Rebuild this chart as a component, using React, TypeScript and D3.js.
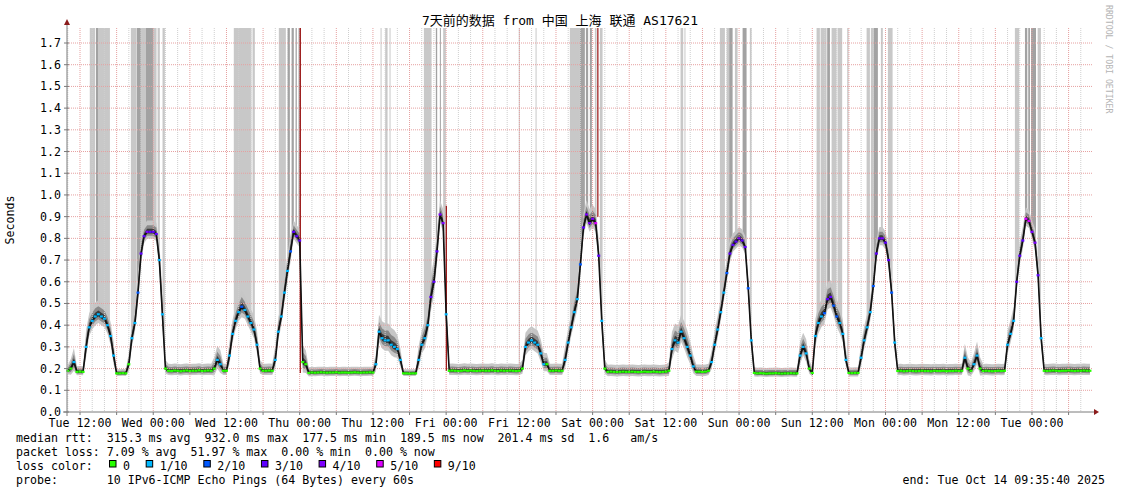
import * as d3 from "d3";

// hours are counted from Tue 2025-10-07 00:00 (local time)
const day0 = new Date(2025, 9, 7).getTime();
const at = (h: number) => new Date(day0 + h * 3600e3);

// half-hourly samples: [median ms, loss /10, smoke spread ms]
const tue07 = [ // from 10:00
  [190,0,20],[200,0,35],[230,1,50],[185,0,20],[186,0,20],[185,0,20],[300,1,60],[390,1,50],[420,1,50],[440,1,50],
  [450,1,50],[440,1,50],[430,1,50],[400,1,50],[350,1,50],[260,1,50],[178,0,15],[178,0,15],[179,0,15],[178,0,15],
  [220,0,40],[340,1,50],[410,1,50],[550,2,60],[730,3,60],[810,3,40],[830,4,40],[830,3,40],
];
const wed08 = [
  [830,3,40],[820,3,40],[700,1,60],[450,1,80],[200,0,30],
  [190,0,25],[189,0,25],[191,0,25],[190,0,25],[188,0,25],[190,0,25],[191,0,25],[189,0,25],[190,0,25],[190,0,25],
  [192,0,25],[189,0,25],[190,0,25],[191,0,25],[190,0,25],
  [200,0,40],[240,1,50],[220,1,50],[190,0,25],[190,0,25],
  [260,1,50],[360,1,50],[420,1,50],[460,1,50],[485,2,60],[470,1,50],[440,1,50],[410,1,50],[380,1,50],[310,1,50],
  [200,0,30],[190,0,25],[190,0,25],[191,0,25],[190,0,25],
  [240,1,50],[370,1,50],[440,1,50],[550,1,60],[650,1,60],[740,2,60],[830,3,40],[810,3,40],
];
const thu09 = [
  [790,3,40],[230,0,60],[220,0,50],[180,0,20],
  [182,0,20],[181,0,20],[182,0,20],[183,0,20],[182,0,20],[181,0,20],[182,0,20],[182,0,20],[183,0,20],[181,0,20],
  [182,0,20],[182,0,20],[181,0,20],[182,0,20],[183,0,20],[182,0,20],[181,0,20],[182,0,20],[182,0,20],[183,0,20],
  [182,0,20],
  [220,1,40],[370,1,60],[340,1,60],[330,1,60],[330,1,60],[310,1,60],[300,1,60],[290,1,50],[240,1,40],
  [178,0,15],[178,0,15],[177,0,15],[178,0,15],[178,0,15],
  [240,1,50],[310,1,50],[340,1,60],[400,1,60],[530,3,80],[600,3,80],[740,3,70],[910,4,50],[870,4,50],
];
const fri10 = [
  [450,1,80],
  [190,0,25],[191,0,25],[190,0,25],[189,0,25],[190,0,25],[192,0,25],[190,0,25],[191,0,25],[190,0,25],[189,0,25],
  [190,0,25],[191,0,25],[190,0,25],[190,0,25],[192,0,25],[190,0,25],[189,0,25],[191,0,25],[190,0,25],[190,0,25],
  [191,0,25],[190,0,25],[189,0,25],[190,0,25],
  [200,0,30],[300,1,50],[320,1,50],[330,1,50],[320,1,50],[310,1,50],[270,1,50],[220,1,40],[220,0,40],
  [190,0,25],[190,0,25],[191,0,25],[190,0,25],[190,0,25],
  [240,1,50],[320,1,50],[390,1,50],[460,1,60],[520,1,60],[680,2,60],[850,3,50],[910,4,50],[870,4,50],
];
const sat11 = [
  [890,4,50],[870,5,50],[720,3,60],[420,1,70],[200,0,30],
  [185,0,25],[186,0,25],[185,0,25],[184,0,25],[185,0,25],[186,0,25],[185,0,25],[185,0,25],[186,0,25],[185,0,25],
  [184,0,25],[185,0,25],[186,0,25],[185,0,25],[185,0,25],[186,0,25],[185,0,25],[184,0,25],[185,0,25],[186,0,25],
  [190,0,30],[290,1,60],[330,1,60],[320,1,60],[370,1,60],[340,1,60],[300,1,60],[260,1,50],[210,1,40],
  [186,0,25],[186,0,25],[185,0,25],[186,0,25],[190,0,25],
  [230,1,40],[310,1,50],[380,1,50],[460,1,50],[550,1,50],[640,2,50],[730,3,50],[770,3,40],[785,3,40],
];
const sun12 = [
  [800,4,40],[790,3,40],[760,3,40],[570,2,50],[330,1,50],[180,0,20],
  [178,0,20],[179,0,20],[178,0,20],[177,0,20],[178,0,20],[178,0,20],[179,0,20],[178,0,20],[177,0,20],[178,0,20],
  [178,0,20],[179,0,20],[178,0,20],[178,0,20],
  [260,1,50],[300,1,50],[270,1,50],[200,0,30],[180,0,20],
  [350,1,60],[410,1,60],[440,1,60],[455,2,60],[520,3,60],[530,3,60],[490,2,60],[440,2,60],[410,1,60],[360,1,50],
  [240,1,40],
  [180,0,20],[179,0,20],[180,0,20],[180,0,20],
  [250,1,50],[330,1,50],[390,1,50],[460,1,50],[580,2,50],[730,3,50],[800,3,40],[800,4,40],
];
const mon13 = [
  [780,3,40],[700,3,50],[550,2,50],[320,1,50],
  [189,0,25],[190,0,25],[188,0,25],[189,0,25],[190,0,25],[189,0,25],[188,0,25],[189,0,25],[190,0,25],[189,0,25],
  [189,0,25],[188,0,25],[190,0,25],[189,0,25],[189,0,25],[190,0,25],[188,0,25],[189,0,25],[189,0,25],[190,0,25],
  [189,0,25],[190,0,25],
  [250,1,50],[200,0,40],[190,0,30],[220,1,40],[260,1,50],[200,0,40],
  [189,0,25],[190,0,25],[189,0,25],[188,0,25],[189,0,25],[190,0,25],[189,0,25],[190,0,25],
  [310,1,50],[360,1,50],[420,1,50],[600,3,50],[720,3,50],[790,3,50],[890,5,40],[880,5,40],
];
const tue14 = [
  [830,4,40],[780,4,50],[630,3,50],[340,1,50],
  [190,0,25],[189,0,25],[190,0,25],[191,0,25],[190,0,25],[189,0,25],[190,0,25],[190,0,25],[191,0,25],[190,0,25],
  [189,0,25],[190,0,25],[190,0,25],[191,0,25],[190,0,25],[190,0,25],
];
const dayBlocks: [number, number[][]][] = [
  [10, tue07], [24, wed08], [48, thu09], [72, fri10], [96, sat11], [120, sun12], [144, mon13], [168, tue14],
];

// loss bars reaching the top: [from h, to h, shade 1=light 2=dark]
const lossBars = [
  [13.6,14.45,1],[14.6,14.95,2],[14.95,16.9,1],
  [20.33,21.26,1],[21.31,21.97,2],[21.97,22.79,1],[22.79,23.98,2],[23.98,24.54,1],[24.71,25.08,1],[25.52,25.9,1],
  [37.2,40.1,1],[40.27,40.65,1],
  [44.58,45.73,1],[46.01,46.39,2],[46.67,47.04,2],[47.32,47.53,2],[47.81,48.14,2],
  [61.25,61.4,1],[62.01,62.4,1],[62.72,62.85,1],
  [68.35,69.61,1],[70.31,70.53,2],[70.97,71.13,2],[71.51,71.95,1],
  [83.9,84.05,1],[86.65,86.8,1],
  [92.27,93.91,1],[93.91,94.73,2],[94.9,95.27,2],[95.55,95.88,2],[96.37,96.65,1],[97.19,97.63,1],
  [110.41,110.84,1],[111.05,111.2,1],
  [116.86,117.68,1],[117.96,118.38,1],[118.38,118.94,2],[119.32,119.76,1],[120.58,121.23,2],[121.77,122.05,1],
  [132.7,133.24,1],[133.36,134.34,1],[134.44,134.89,2],[135.16,135.98,1],[136.14,136.9,1],[137.72,137.95,1],
  [140.9,141.44,1],[141.6,142.09,1],[142.09,142.75,2],[143.24,143.56,1],[144.39,145.16,1],
  [165.2,165.91,1],[166.85,167.23,2],[167.39,167.67,2],[167.84,168.66,2],[168.93,169.47,1],
];
// 9/10 loss marks: [h, top s, bottom s]
const redMarks = [[48.1, 1.78, 0.18], [72.03, 0.95, 0.19], [96.86, 1.78, 0.9]];

const yTicks = [0, 0.1, 0.2, 0.3, 0.4, 0.5, 0.6, 0.7, 0.8, 0.9, 1.0, 1.1, 1.2, 1.3, 1.4, 1.5, 1.6, 1.7];
const lossLevels = ["0", "1/10", "2/10", "3/10", "4/10", "5/10", "9/10"];
const lossColors = ["#26ff00", "#00b8ff", "#0059ff", "#5e00ff", "#7e00ff", "#dd00ff", "#ff0000"];
const lossIndex: Record<number, number> = { 0: 0, 1: 1, 2: 2, 3: 3, 4: 4, 5: 5, 9: 6 };

const title = "7天前的数据 from 中国 上海 联通 AS17621";
const rttLine = "median rtt:  315.3 ms avg  932.0 ms max  177.5 ms min  189.5 ms now  201.4 ms sd  1.6   am/s";
const lossLine = "packet loss: 7.09 % avg  51.97 % max  0.00 % min  0.00 % now";
const probeLine = "probe:       10 IPv6-ICMP Echo Pings (64 Bytes) every 60s";
const endLine = "end: Tue Oct 14 09:35:40 2025";

const MONO = "'DejaVu Sans Mono', monospace";
const FS = 11.6;
const CW = FS * 0.602;
const pre = { whiteSpace: "pre" as const };

export default function App() {
  const left = 67, right = 1093, top = 28, bottom = 412;
  const x = d3.scaleTime().domain([at(9 + 52 / 60), at(178)]).range([left, right]);
  const y = d3.scaleLinear().domain([0, 1.7]).range([bottom, 43]);

  const samples = dayBlocks.flatMap(([h0, rows]) =>
    rows.map(([m, loss, sd], i) => ({ t: at(h0 + i * 0.5), m: m / 1000, loss, sd: sd / 1000 }))
  );

  const band = (lo: number, hi: number) =>
    d3.area<typeof samples[0]>()
      .x((d) => x(d.t))
      .y0((d) => y(d.m - d.sd * lo))
      .y1((d) => y(d.m + d.sd * hi))(samples) || "";

  const barArea = d3.area<typeof samples[0]>()
    .x((d) => x(d.t))
    .y0(() => top)
    .y1((d) => y(d.m + d.sd))(samples) || "";

  const medianPath = d3.line<typeof samples[0]>().x((d) => x(d.t)).y((d) => y(d.m))(samples) || "";

  const [d0, d1] = x.domain();
  const major = d3.timeHour.every(6)!.range(d0, d1);
  const minor = d3.timeHour.every(2)!.range(d0, d1).filter((d) => d.getHours() % 6 !== 0);
  const labels = d3.timeHour.every(12)!.range(d0, d1);
  const fmt = d3.timeFormat("%a %H:%M");

  const gridRed = "#e6a0a0";
  const gridGray = "#cfcfcf";

  // legend box positions
  let lx = 109;
  const legendItems = lossLevels.map((lab, i) => {
    const item = { x: lx, lab, color: lossColors[i] };
    lx += 14 + lab.length * CW + 15.7;
    return item;
  });

  return (
    <svg width={1121} height={494} style={{ position: "absolute", left: 0, top: 0, background: "#fff" }}
      fontFamily={MONO}>
      <defs>
        {[1, 2].map((s) => (
          <clipPath id={`loss${s}`} key={s}>
            {lossBars.filter((b) => b[2] === s).map((b, i) => (
              <rect key={i} x={x(at(b[0]))} width={Math.max(1, x(at(b[1])) - x(at(b[0])))} y={top} height={bottom - top} />
            ))}
          </clipPath>
        ))}
      </defs>

      <text x={560} y={25} textAnchor="middle" fontSize={13}
        fontFamily="'DejaVu Sans Mono', 'Noto Sans CJK SC', monospace">{title}</text>
      <text transform="translate(1106,5) rotate(90)" fontSize={8.2} fill="#b4b4b4">RRDTOOL / TOBI OETIKER</text>
      <text transform="translate(14,220) rotate(-90)" textAnchor="middle" fontSize={FS}>Seconds</text>

      {/* loss bars */}
      <path d={barArea} fill="#c8c8c8" clipPath="url(#loss1)" />
      <path d={barArea} fill="#a2a2a2" clipPath="url(#loss2)" />

      {/* smoke */}
      <path d={band(0.8, 1.3)} fill="#c6c6c6" />
      <path d={band(0.45, 0.75)} fill="#8a8a8a" />
      <path d={band(0.2, 0.35)} fill="#3a3a3a" />

      {/* grid */}
      {minor.map((d, i) => (
        <line key={"mi" + i} x1={x(d)} x2={x(d)} y1={top} y2={bottom} stroke={gridGray} strokeDasharray="1,1" />
      ))}
      {major.map((d, i) => (
        <line key={"ma" + i} x1={x(d)} x2={x(d)} y1={top} y2={bottom} stroke={gridRed} strokeDasharray="1,1" />
      ))}
      {yTicks.slice(1).map((v) => (
        <line key={v} x1={left} x2={right} y1={y(v)} y2={y(v)} stroke={gridRed} strokeDasharray="1,1" />
      ))}

      {/* 9/10 loss marks */}
      {redMarks.map(([h, a, b], i) => (
        <line key={i} x1={x(at(h))} x2={x(at(h))} y1={Math.max(top, y(a))} y2={y(b)} stroke="#9a1010" strokeWidth={1.2} />
      ))}

      {/* median */}
      <path d={medianPath} fill="none" stroke="#111" strokeWidth={1.6} />
      {samples.map((d, i) => (
        <rect key={i} x={x(d.t) - 1.5} y={y(d.m) - 1.1} width={3} height={2.2} fill={lossColors[lossIndex[d.loss]]} />
      ))}

      {/* axes */}
      <line x1={left} x2={left} y1={bottom + 4} y2={22} stroke="#7a7a7a" />
      <line x1={left - 4} x2={right + 2} y1={bottom} y2={bottom} stroke="#7a7a7a" />
      <path d={`M${left - 3},${25}L${left},${19}L${left + 3},${25}Z`} fill="#8b1c1c" />
      <path d={`M${right + 1},${bottom - 3}L${right + 6},${bottom}L${right + 1},${bottom + 3}Z`} fill="#8b1c1c" />
      {yTicks.map((v) => (
        <g key={v}>
          <line x1={left - 3} x2={left + 2} y1={y(v)} y2={y(v)} stroke="#7a7a7a" />
          <text x={61} y={y(v) + 4} textAnchor="end" fontSize={FS}>{v.toFixed(1)}</text>
        </g>
      ))}
      {major.map((d, i) => (
        <line key={"t" + i} x1={x(d)} x2={x(d)} y1={bottom} y2={bottom + 3} stroke="#7a7a7a" />
      ))}
      {labels.map((d, i) => (
        <text key={i} x={x(d)} y={426.5} textAnchor="middle" fontSize={FS}>{fmt(d)}</text>
      ))}

      {/* legend */}
      <g fontSize={FS}>
        <text x={16} y={442} xmlSpace="preserve" style={pre}>{rttLine}</text>
        <text x={16} y={456} xmlSpace="preserve" style={pre}>{lossLine}</text>
        <text x={16} y={470}>loss color:</text>
        {legendItems.map((it) => (
          <g key={it.lab}>
            <rect x={it.x + 0.5} y={460.5} width={6.5} height={6.5} fill={it.color} stroke="#000" />
            <text x={it.x + 14} y={470}>{it.lab}</text>
          </g>
        ))}
        <text x={16} y={484} xmlSpace="preserve" style={pre}>{probeLine}</text>
        <text x={1105} y={484} textAnchor="end">{endLine}</text>
      </g>
    </svg>
  );
}
